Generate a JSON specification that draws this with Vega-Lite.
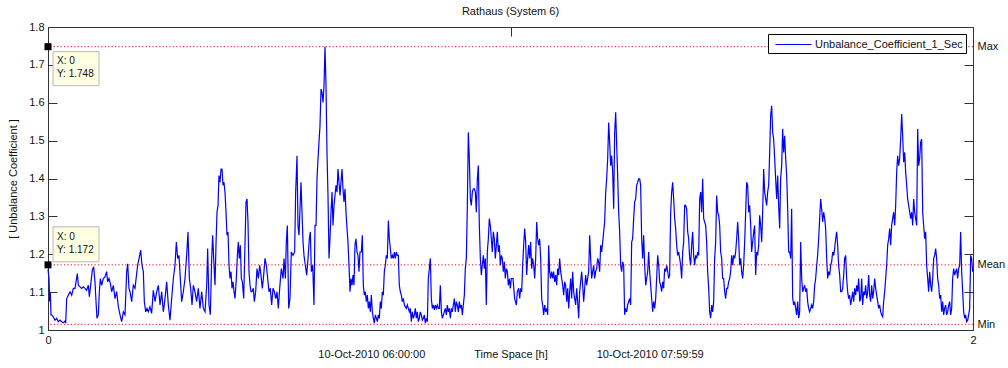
{
"$schema": "https://vega.github.io/schema/vega-lite/v6.json",
"width": 925, "height": 303,
"autosize": {"type": "none"},
"padding": {"left": 48, "top": 27, "right": 35, "bottom": 38},
"background": "white",
"title": {"text": "Rathaus (System 6)", "fontSize": 11, "fontWeight": "normal", "font": "Liberation Sans", "color": "#111", "baseline": "alphabetic", "offset": 11, "dy": 16},
"datasets": {
"stats": [
{"stat": "Max", "h": 0, "v": 1.748, "tip": "X: 0\nY: 1.748"},
{"stat": "Mean", "h": 0, "v": 1.172, "tip": "X: 0\nY: 1.172"},
{"stat": "Min", "h": 0, "v": 1.015, "tip": ""}
],
"series": [
{"h":0,"v":1.160},{"h":0.0022,"v":1.136},{"h":0.0036,"v":1.075},{"h":0.0050,"v":1.100},{"h":0.0065,"v":1.040},{"h":0.0079,"v":1.040},{"h":0.0115,"v":1.035},{"h":0.0151,"v":1.026},{"h":0.0187,"v":1.031},{"h":0.0223,"v":1.022},{"h":0.0259,"v":1.026},{"h":0.0295,"v":1.022},{"h":0.0332,"v":1.019},{"h":0.0368,"v":1.024},{"h":0.0382,"v":1.018},{"h":0.0404,"v":1.083},{"h":0.0440,"v":1.092},{"h":0.0476,"v":1.101},{"h":0.0512,"v":1.092},{"h":0.0548,"v":1.110},{"h":0.0584,"v":1.110},{"h":0.0634,"v":1.149},{"h":0.0656,"v":1.118},{"h":0.0692,"v":1.114},{"h":0.0728,"v":1.110},{"h":0.0764,"v":1.114},{"h":0.0800,"v":1.110},{"h":0.0836,"v":1.105},{"h":0.0872,"v":1.118},{"h":0.0894,"v":1.088},{"h":0.0930,"v":1.127},{"h":0.0959,"v":1.158},{"h":0.0987,"v":1.167},{"h":0.1016,"v":1.127},{"h":0.1038,"v":1.075},{"h":0.1059,"v":1.031},{"h":0.1088,"v":1.040},{"h":0.1110,"v":1.101},{"h":0.1132,"v":1.136},{"h":0.1160,"v":1.118},{"h":0.1196,"v":1.136},{"h":0.1232,"v":1.140},{"h":0.1268,"v":1.154},{"h":0.1290,"v":1.127},{"h":0.1319,"v":1.136},{"h":0.1348,"v":1.123},{"h":0.1377,"v":1.101},{"h":0.1413,"v":1.118},{"h":0.1449,"v":1.083},{"h":0.1485,"v":1.101},{"h":0.1521,"v":1.061},{"h":0.1557,"v":1.040},{"h":0.1593,"v":1.022},{"h":0.1629,"v":1.048},{"h":0.1665,"v":1.040},{"h":0.1701,"v":1.154},{"h":0.1723,"v":1.175},{"h":0.1751,"v":1.110},{"h":0.1773,"v":1.101},{"h":0.1809,"v":1.075},{"h":0.1845,"v":1.118},{"h":0.1881,"v":1.110},{"h":0.1917,"v":1.149},{"h":0.1939,"v":1.171},{"h":0.1975,"v":1.193},{"h":0.2004,"v":1.211},{"h":0.2032,"v":1.171},{"h":0.2061,"v":1.154},{"h":0.2083,"v":1.075},{"h":0.2112,"v":1.048},{"h":0.2141,"v":1.057},{"h":0.2169,"v":1.048},{"h":0.2205,"v":1.061},{"h":0.2241,"v":1.044},{"h":0.2277,"v":1.105},{"h":0.2314,"v":1.075},{"h":0.2350,"v":1.101},{"h":0.2386,"v":1.118},{"h":0.2422,"v":1.066},{"h":0.2458,"v":1.101},{"h":0.2494,"v":1.048},{"h":0.2530,"v":1.083},{"h":0.2566,"v":1.127},{"h":0.2602,"v":1.066},{"h":0.2638,"v":1.026},{"h":0.2674,"v":1.083},{"h":0.2710,"v":1.136},{"h":0.2746,"v":1.171},{"h":0.2775,"v":1.232},{"h":0.2804,"v":1.189},{"h":0.2832,"v":1.197},{"h":0.2861,"v":1.136},{"h":0.2890,"v":1.075},{"h":0.2926,"v":1.101},{"h":0.2962,"v":1.136},{"h":0.2998,"v":1.197},{"h":0.3027,"v":1.259},{"h":0.3056,"v":1.136},{"h":0.3085,"v":1.110},{"h":0.3114,"v":1.066},{"h":0.3142,"v":1.118},{"h":0.3178,"v":1.101},{"h":0.3214,"v":1.075},{"h":0.3250,"v":1.110},{"h":0.3286,"v":1.057},{"h":0.3323,"v":1.101},{"h":0.3359,"v":1.057},{"h":0.3395,"v":1.048},{"h":0.3431,"v":1.118},{"h":0.3452,"v":1.215},{"h":0.3481,"v":1.066},{"h":0.3510,"v":1.040},{"h":0.3539,"v":1.189},{"h":0.3560,"v":1.250},{"h":0.3589,"v":1.171},{"h":0.3611,"v":1.118},{"h":0.3632,"v":1.224},{"h":0.3654,"v":1.311},{"h":0.3676,"v":1.329},{"h":0.3697,"v":1.408},{"h":0.3719,"v":1.390},{"h":0.3741,"v":1.425},{"h":0.3762,"v":1.425},{"h":0.3784,"v":1.382},{"h":0.3805,"v":1.390},{"h":0.3827,"v":1.364},{"h":0.3849,"v":1.311},{"h":0.3870,"v":1.250},{"h":0.3892,"v":1.259},{"h":0.3914,"v":1.171},{"h":0.3935,"v":1.136},{"h":0.3957,"v":1.154},{"h":0.3978,"v":1.110},{"h":0.4000,"v":1.127},{"h":0.4022,"v":1.101},{"h":0.4043,"v":1.083},{"h":0.4072,"v":1.136},{"h":0.4094,"v":1.197},{"h":0.4115,"v":1.232},{"h":0.4137,"v":1.189},{"h":0.4159,"v":1.224},{"h":0.4180,"v":1.136},{"h":0.4202,"v":1.127},{"h":0.4231,"v":1.083},{"h":0.4259,"v":1.224},{"h":0.4281,"v":1.338},{"h":0.4303,"v":1.346},{"h":0.4324,"v":1.285},{"h":0.4346,"v":1.154},{"h":0.4368,"v":1.118},{"h":0.4389,"v":1.101},{"h":0.4411,"v":1.101},{"h":0.4440,"v":1.110},{"h":0.4461,"v":1.075},{"h":0.4490,"v":1.101},{"h":0.4519,"v":1.162},{"h":0.4548,"v":1.136},{"h":0.4577,"v":1.171},{"h":0.4605,"v":1.145},{"h":0.4634,"v":1.110},{"h":0.4663,"v":1.145},{"h":0.4692,"v":1.189},{"h":0.4721,"v":1.171},{"h":0.4750,"v":1.136},{"h":0.4778,"v":1.101},{"h":0.4807,"v":1.110},{"h":0.4836,"v":1.066},{"h":0.4865,"v":1.110},{"h":0.4894,"v":1.101},{"h":0.4923,"v":1.083},{"h":0.4951,"v":1.101},{"h":0.4980,"v":1.057},
{"h":0.5009,"v":1.110},{"h":0.5045,"v":1.162},{"h":0.5081,"v":1.136},{"h":0.5103,"v":1.189},{"h":0.5132,"v":1.136},{"h":0.5153,"v":1.232},{"h":0.5175,"v":1.276},{"h":0.5204,"v":1.057},{"h":0.5232,"v":1.083},{"h":0.5261,"v":1.206},{"h":0.5297,"v":1.197},{"h":0.5333,"v":1.206},{"h":0.5355,"v":1.364},{"h":0.5384,"v":1.460},{"h":0.5405,"v":1.276},{"h":0.5427,"v":1.250},{"h":0.5449,"v":1.320},{"h":0.5470,"v":1.390},{"h":0.5492,"v":1.311},{"h":0.5514,"v":1.232},{"h":0.5535,"v":1.197},{"h":0.5564,"v":1.171},{"h":0.5593,"v":1.145},{"h":0.5622,"v":1.189},{"h":0.5650,"v":1.241},{"h":0.5672,"v":1.259},{"h":0.5694,"v":1.154},{"h":0.5723,"v":1.171},{"h":0.5751,"v":1.066},{"h":0.5773,"v":1.276},{"h":0.5795,"v":1.276},{"h":0.5816,"v":1.399},{"h":0.5838,"v":1.452},{"h":0.5859,"v":1.496},{"h":0.5881,"v":1.539},{"h":0.5903,"v":1.636},{"h":0.5924,"v":1.627},{"h":0.5946,"v":1.601},{"h":0.5968,"v":1.645},{"h":0.5989,"v":1.748},{"h":0.6011,"v":1.645},{"h":0.6032,"v":1.469},{"h":0.6054,"v":1.355},{"h":0.6076,"v":1.189},{"h":0.6097,"v":1.241},{"h":0.6119,"v":1.311},{"h":0.6141,"v":1.364},{"h":0.6162,"v":1.276},{"h":0.6184,"v":1.329},{"h":0.6205,"v":1.355},{"h":0.6227,"v":1.382},{"h":0.6249,"v":1.364},{"h":0.6270,"v":1.425},{"h":0.6292,"v":1.390},{"h":0.6314,"v":1.355},{"h":0.6335,"v":1.390},{"h":0.6357,"v":1.425},{"h":0.6378,"v":1.373},{"h":0.6400,"v":1.338},{"h":0.6422,"v":1.373},{"h":0.6443,"v":1.311},{"h":0.6465,"v":1.268},{"h":0.6486,"v":1.232},{"h":0.6508,"v":1.171},{"h":0.6530,"v":1.101},{"h":0.6551,"v":1.136},{"h":0.6573,"v":1.118},{"h":0.6595,"v":1.145},{"h":0.6616,"v":1.118},{"h":0.6638,"v":1.224},{"h":0.6659,"v":1.241},{"h":0.6681,"v":1.206},{"h":0.6703,"v":1.197},{"h":0.6724,"v":1.154},{"h":0.6746,"v":1.206},{"h":0.6775,"v":1.206},{"h":0.6796,"v":1.250},{"h":0.6818,"v":1.118},{"h":0.6840,"v":1.092},{"h":0.6861,"v":1.101},{"h":0.6883,"v":1.075},{"h":0.6905,"v":1.092},{"h":0.6926,"v":1.057},{"h":0.6948,"v":1.075},{"h":0.6969,"v":1.048},{"h":0.6991,"v":1.092},{"h":0.7013,"v":1.048},{"h":0.7034,"v":1.031},{"h":0.7056,"v":1.018},{"h":0.7077,"v":1.040},{"h":0.7099,"v":1.031},{"h":0.7121,"v":1.022},{"h":0.7142,"v":1.040},{"h":0.7164,"v":1.031},{"h":0.7186,"v":1.075},{"h":0.7207,"v":1.057},{"h":0.7229,"v":1.101},{"h":0.7250,"v":1.092},{"h":0.7272,"v":1.154},{"h":0.7294,"v":1.171},{"h":0.7315,"v":1.197},{"h":0.7337,"v":1.189},{"h":0.7359,"v":1.289},{"h":0.7380,"v":1.241},{"h":0.7402,"v":1.215},{"h":0.7423,"v":1.189},{"h":0.7445,"v":1.197},{"h":0.7467,"v":1.189},{"h":0.7488,"v":1.206},{"h":0.7510,"v":1.189},{"h":0.7532,"v":1.206},{"h":0.7553,"v":1.197},{"h":0.7575,"v":1.197},{"h":0.7596,"v":1.118},{"h":0.7618,"v":1.101},{"h":0.7640,"v":1.092},{"h":0.7661,"v":1.075},{"h":0.7683,"v":1.083},{"h":0.7705,"v":1.066},{"h":0.7726,"v":1.061},{"h":0.7748,"v":1.057},{"h":0.7769,"v":1.066},{"h":0.7791,"v":1.057},{"h":0.7813,"v":1.048},{"h":0.7834,"v":1.057},{"h":0.7856,"v":1.022},{"h":0.7877,"v":1.048},{"h":0.7899,"v":1.031},{"h":0.7921,"v":1.040},{"h":0.7942,"v":1.057},{"h":0.7964,"v":1.031},{"h":0.7986,"v":1.048},{"h":0.8007,"v":1.022},{"h":0.8029,"v":1.031},{"h":0.8050,"v":1.048},{"h":0.8072,"v":1.040},{"h":0.8094,"v":1.026},{"h":0.8115,"v":1.031},{"h":0.8137,"v":1.040},{"h":0.8159,"v":1.018},{"h":0.8180,"v":1.031},{"h":0.8202,"v":1.022},{"h":0.8223,"v":1.136},{"h":0.8245,"v":1.162},{"h":0.8267,"v":1.189},{"h":0.8288,"v":1.083},{"h":0.8310,"v":1.057},{"h":0.8332,"v":1.066},{"h":0.8353,"v":1.053},{"h":0.8375,"v":1.066},{"h":0.8396,"v":1.057},{"h":0.8418,"v":1.066},{"h":0.8440,"v":1.057},{"h":0.8461,"v":1.057},{"h":0.8483,"v":1.118},{"h":0.8505,"v":1.048},{"h":0.8526,"v":1.031},{"h":0.8548,"v":1.040},{"h":0.8569,"v":1.048},{"h":0.8591,"v":1.057},{"h":0.8613,"v":1.040},{"h":0.8634,"v":1.066},{"h":0.8656,"v":1.048},{"h":0.8677,"v":1.057},{"h":0.8699,"v":1.031},{"h":0.8721,"v":1.057},{"h":0.8742,"v":1.048},{"h":0.8764,"v":1.066},{"h":0.8786,"v":1.083},{"h":0.8807,"v":1.048},{"h":0.8829,"v":1.075},{"h":0.8850,"v":1.066},{"h":0.8872,"v":1.048},{"h":0.8894,"v":1.075},{"h":0.8915,"v":1.057},{"h":0.8937,"v":1.066},{"h":0.8959,"v":1.040},{"h":0.8980,"v":1.066},{"h":0.9002,"v":1.092},{"h":0.9023,"v":1.162},{"h":0.9045,"v":1.189},{"h":0.9067,"v":1.329},{"h":0.9088,"v":1.522},{"h":0.9110,"v":1.452},{"h":0.9132,"v":1.346},{"h":0.9153,"v":1.329},{"h":0.9175,"v":1.364},{"h":0.9196,"v":1.373},{"h":0.9218,"v":1.373},{"h":0.9240,"v":1.364},{"h":0.9261,"v":1.311},{"h":0.9283,"v":1.399},{"h":0.9305,"v":1.434},{"h":0.9326,"v":1.276},{"h":0.9348,"v":1.189},{"h":0.9369,"v":1.145},{"h":0.9391,"v":1.171},{"h":0.9413,"v":1.197},{"h":0.9434,"v":1.162},{"h":0.9456,"v":1.189},{"h":0.9477,"v":1.066},{"h":0.9499,"v":1.206},{"h":0.9521,"v":1.241},{"h":0.9542,"v":1.294},{"h":0.9564,"v":1.276},{"h":0.9586,"v":1.241},{"h":0.9607,"v":1.206},{"h":0.9629,"v":1.259},{"h":0.9650,"v":1.241},{"h":0.9672,"v":1.189},{"h":0.9694,"v":1.224},{"h":0.9715,"v":1.259},{"h":0.9737,"v":1.206},{"h":0.9759,"v":1.224},{"h":0.9780,"v":1.171},{"h":0.9802,"v":1.197},{"h":0.9823,"v":1.189},{"h":0.9845,"v":1.154},{"h":0.9867,"v":1.180},{"h":0.9888,"v":1.136},{"h":0.9910,"v":1.162},{"h":0.9932,"v":1.154},{"h":0.9953,"v":1.118},{"h":0.9975,"v":1.136},{"h":0.9996,"v":1.110},{"h":1.0018,"v":1.136},
{"h":1.0054,"v":1.136},{"h":1.0090,"v":1.083},{"h":1.0126,"v":1.066},{"h":1.0148,"v":1.101},{"h":1.0177,"v":1.110},{"h":1.0198,"v":1.083},{"h":1.0220,"v":1.110},{"h":1.0242,"v":1.101},{"h":1.0263,"v":1.171},{"h":1.0285,"v":1.224},{"h":1.0306,"v":1.268},{"h":1.0328,"v":1.232},{"h":1.0350,"v":1.145},{"h":1.0371,"v":1.189},{"h":1.0393,"v":1.224},{"h":1.0414,"v":1.189},{"h":1.0436,"v":1.232},{"h":1.0458,"v":1.162},{"h":1.0479,"v":1.189},{"h":1.0501,"v":1.171},{"h":1.0523,"v":1.136},{"h":1.0544,"v":1.189},{"h":1.0566,"v":1.285},{"h":1.0587,"v":1.241},{"h":1.0609,"v":1.224},{"h":1.0631,"v":1.241},{"h":1.0652,"v":1.189},{"h":1.0674,"v":1.083},{"h":1.0695,"v":1.066},{"h":1.0717,"v":1.040},{"h":1.0739,"v":1.066},{"h":1.0760,"v":1.048},{"h":1.0782,"v":1.057},{"h":1.0804,"v":1.040},{"h":1.0825,"v":1.224},{"h":1.0847,"v":1.154},{"h":1.0868,"v":1.136},{"h":1.0890,"v":1.154},{"h":1.0912,"v":1.136},{"h":1.0933,"v":1.154},{"h":1.0955,"v":1.127},{"h":1.0977,"v":1.145},{"h":1.0998,"v":1.118},{"h":1.1020,"v":1.162},{"h":1.1041,"v":1.145},{"h":1.1063,"v":1.189},{"h":1.1085,"v":1.154},{"h":1.1106,"v":1.136},{"h":1.1128,"v":1.118},{"h":1.1150,"v":1.092},{"h":1.1171,"v":1.127},{"h":1.1193,"v":1.118},{"h":1.1214,"v":1.075},{"h":1.1236,"v":1.110},{"h":1.1258,"v":1.057},{"h":1.1279,"v":1.101},{"h":1.1301,"v":1.136},{"h":1.1323,"v":1.083},{"h":1.1344,"v":1.154},{"h":1.1366,"v":1.101},{"h":1.1387,"v":1.083},{"h":1.1409,"v":1.066},{"h":1.1431,"v":1.110},{"h":1.1452,"v":1.075},{"h":1.1474,"v":1.031},{"h":1.1496,"v":1.101},{"h":1.1517,"v":1.127},{"h":1.1539,"v":1.154},{"h":1.1560,"v":1.118},{"h":1.1582,"v":1.075},{"h":1.1604,"v":1.110},{"h":1.1625,"v":1.145},{"h":1.1647,"v":1.118},{"h":1.1668,"v":1.136},{"h":1.1690,"v":1.154},{"h":1.1712,"v":1.250},{"h":1.1733,"v":1.189},{"h":1.1755,"v":1.136},{"h":1.1777,"v":1.154},{"h":1.1798,"v":1.171},{"h":1.1820,"v":1.136},{"h":1.1841,"v":1.154},{"h":1.1863,"v":1.162},{"h":1.1885,"v":1.189},{"h":1.1906,"v":1.180},{"h":1.1928,"v":1.154},{"h":1.1950,"v":1.224},{"h":1.1971,"v":1.206},{"h":1.1993,"v":1.232},{"h":1.2014,"v":1.259},{"h":1.2036,"v":1.285},{"h":1.2058,"v":1.364},{"h":1.2079,"v":1.399},{"h":1.2101,"v":1.452},{"h":1.2123,"v":1.548},{"h":1.2144,"v":1.496},{"h":1.2166,"v":1.434},{"h":1.2187,"v":1.460},{"h":1.2209,"v":1.417},{"h":1.2231,"v":1.320},{"h":1.2252,"v":1.522},{"h":1.2274,"v":1.575},{"h":1.2296,"v":1.487},{"h":1.2317,"v":1.408},{"h":1.2339,"v":1.311},{"h":1.2360,"v":1.259},{"h":1.2382,"v":1.171},{"h":1.2404,"v":1.154},{"h":1.2425,"v":1.180},{"h":1.2447,"v":1.171},{"h":1.2468,"v":1.040},{"h":1.2490,"v":1.057},{"h":1.2512,"v":1.048},{"h":1.2533,"v":1.066},{"h":1.2555,"v":1.075},{"h":1.2577,"v":1.083},{"h":1.2598,"v":1.066},{"h":1.2620,"v":1.232},{"h":1.2641,"v":1.241},{"h":1.2663,"v":1.294},{"h":1.2685,"v":1.338},{"h":1.2706,"v":1.346},{"h":1.2728,"v":1.382},{"h":1.2750,"v":1.390},{"h":1.2771,"v":1.399},{"h":1.2793,"v":1.399},{"h":1.2814,"v":1.382},{"h":1.2836,"v":1.241},{"h":1.2858,"v":1.189},{"h":1.2879,"v":1.250},{"h":1.2901,"v":1.171},{"h":1.2923,"v":1.118},{"h":1.2944,"v":1.136},{"h":1.2966,"v":1.154},{"h":1.2987,"v":1.206},{"h":1.3009,"v":1.154},{"h":1.3031,"v":1.118},{"h":1.3052,"v":1.083},{"h":1.3074,"v":1.048},{"h":1.3095,"v":1.075},{"h":1.3117,"v":1.057},{"h":1.3139,"v":1.083},{"h":1.3160,"v":1.136},{"h":1.3182,"v":1.197},{"h":1.3204,"v":1.171},{"h":1.3225,"v":1.127},{"h":1.3247,"v":1.118},{"h":1.3268,"v":1.101},{"h":1.3290,"v":1.127},{"h":1.3312,"v":1.110},{"h":1.3333,"v":1.162},{"h":1.3355,"v":1.154},{"h":1.3377,"v":1.171},{"h":1.3398,"v":1.154},{"h":1.3420,"v":1.136},{"h":1.3441,"v":1.145},{"h":1.3463,"v":1.311},{"h":1.3485,"v":1.364},{"h":1.3506,"v":1.390},{"h":1.3528,"v":1.346},{"h":1.3550,"v":1.294},{"h":1.3571,"v":1.268},{"h":1.3593,"v":1.224},{"h":1.3614,"v":1.197},{"h":1.3636,"v":1.206},{"h":1.3658,"v":1.189},{"h":1.3679,"v":1.171},{"h":1.3701,"v":1.136},{"h":1.3723,"v":1.206},{"h":1.3744,"v":1.232},{"h":1.3766,"v":1.329},{"h":1.3787,"v":1.329},{"h":1.3809,"v":1.320},{"h":1.3831,"v":1.259},{"h":1.3852,"v":1.241},{"h":1.3874,"v":1.189},{"h":1.3896,"v":1.171},{"h":1.3917,"v":1.224},{"h":1.3939,"v":1.259},{"h":1.3960,"v":1.197},{"h":1.3982,"v":1.171},{"h":1.4004,"v":1.197},{"h":1.4025,"v":1.189},{"h":1.4047,"v":1.206},{"h":1.4069,"v":1.197},{"h":1.4090,"v":1.346},{"h":1.4112,"v":1.364},{"h":1.4133,"v":1.311},{"h":1.4155,"v":1.399},{"h":1.4177,"v":1.294},{"h":1.4198,"v":1.285},{"h":1.4220,"v":1.276},{"h":1.4241,"v":1.232},{"h":1.4263,"v":1.154},{"h":1.4285,"v":1.110},{"h":1.4306,"v":1.048},{"h":1.4328,"v":1.031},{"h":1.4350,"v":1.066},{"h":1.4371,"v":1.048},{"h":1.4393,"v":1.075},{"h":1.4414,"v":1.189},{"h":1.4436,"v":1.232},{"h":1.4458,"v":1.355},{"h":1.4479,"v":1.311},{"h":1.4501,"v":1.303},{"h":1.4523,"v":1.276},{"h":1.4544,"v":1.206},{"h":1.4566,"v":1.189},{"h":1.4587,"v":1.136},{"h":1.4609,"v":1.136},{"h":1.4631,"v":1.101},{"h":1.4652,"v":1.083},{"h":1.4674,"v":1.110},{"h":1.4695,"v":1.110},{"h":1.4717,"v":1.127},{"h":1.4739,"v":1.136},{"h":1.4760,"v":1.154},{"h":1.4782,"v":1.197},{"h":1.4804,"v":1.171},{"h":1.4825,"v":1.197},{"h":1.4847,"v":1.189},{"h":1.4868,"v":1.206},{"h":1.4890,"v":1.241},{"h":1.4912,"v":1.285},{"h":1.4933,"v":1.241},{"h":1.4955,"v":1.171},{"h":1.4977,"v":1.189},{"h":1.4998,"v":1.154},
{"h":1.5020,"v":1.136},{"h":1.5041,"v":1.171},{"h":1.5063,"v":1.232},{"h":1.5085,"v":1.311},{"h":1.5106,"v":1.390},{"h":1.5128,"v":1.382},{"h":1.5150,"v":1.311},{"h":1.5171,"v":1.329},{"h":1.5193,"v":1.276},{"h":1.5214,"v":1.206},{"h":1.5236,"v":1.232},{"h":1.5258,"v":1.259},{"h":1.5279,"v":1.276},{"h":1.5301,"v":1.145},{"h":1.5323,"v":1.206},{"h":1.5344,"v":1.197},{"h":1.5366,"v":1.224},{"h":1.5387,"v":1.303},{"h":1.5409,"v":1.276},{"h":1.5431,"v":1.232},{"h":1.5452,"v":1.311},{"h":1.5474,"v":1.425},{"h":1.5495,"v":1.364},{"h":1.5517,"v":1.346},{"h":1.5539,"v":1.329},{"h":1.5560,"v":1.364},{"h":1.5582,"v":1.382},{"h":1.5604,"v":1.469},{"h":1.5625,"v":1.566},{"h":1.5647,"v":1.592},{"h":1.5668,"v":1.522},{"h":1.5690,"v":1.504},{"h":1.5712,"v":1.452},{"h":1.5733,"v":1.399},{"h":1.5755,"v":1.346},{"h":1.5777,"v":1.408},{"h":1.5798,"v":1.329},{"h":1.5820,"v":1.268},{"h":1.5841,"v":1.399},{"h":1.5863,"v":1.434},{"h":1.5885,"v":1.531},{"h":1.5906,"v":1.469},{"h":1.5928,"v":1.513},{"h":1.5950,"v":1.452},{"h":1.5971,"v":1.408},{"h":1.5993,"v":1.320},{"h":1.6014,"v":1.206},{"h":1.6036,"v":1.206},{"h":1.6058,"v":1.189},{"h":1.6079,"v":1.320},{"h":1.6101,"v":1.083},{"h":1.6123,"v":1.066},{"h":1.6144,"v":1.075},{"h":1.6166,"v":1.057},{"h":1.6187,"v":1.040},{"h":1.6209,"v":1.075},{"h":1.6231,"v":1.031},{"h":1.6252,"v":1.048},{"h":1.6274,"v":1.232},{"h":1.6296,"v":1.136},{"h":1.6317,"v":1.101},{"h":1.6339,"v":1.110},{"h":1.6360,"v":1.118},{"h":1.6382,"v":1.101},{"h":1.6404,"v":1.110},{"h":1.6425,"v":1.075},{"h":1.6447,"v":1.057},{"h":1.6468,"v":1.048},{"h":1.6490,"v":1.057},{"h":1.6512,"v":1.066},{"h":1.6533,"v":1.057},{"h":1.6555,"v":1.075},{"h":1.6577,"v":1.118},{"h":1.6598,"v":1.136},{"h":1.6620,"v":1.171},{"h":1.6641,"v":1.197},{"h":1.6663,"v":1.241},{"h":1.6685,"v":1.294},{"h":1.6706,"v":1.346},{"h":1.6728,"v":1.320},{"h":1.6750,"v":1.285},{"h":1.6771,"v":1.311},{"h":1.6793,"v":1.294},{"h":1.6814,"v":1.268},{"h":1.6836,"v":1.189},{"h":1.6858,"v":1.136},{"h":1.6879,"v":1.154},{"h":1.6901,"v":1.145},{"h":1.6923,"v":1.171},{"h":1.6944,"v":1.180},{"h":1.6966,"v":1.206},{"h":1.6987,"v":1.197},{"h":1.7009,"v":1.215},{"h":1.7031,"v":1.241},{"h":1.7052,"v":1.259},{"h":1.7074,"v":1.224},{"h":1.7095,"v":1.171},{"h":1.7117,"v":1.145},{"h":1.7139,"v":1.101},{"h":1.7160,"v":1.101},{"h":1.7182,"v":1.110},{"h":1.7204,"v":1.145},{"h":1.7225,"v":1.189},{"h":1.7247,"v":1.197},{"h":1.7268,"v":1.136},{"h":1.7290,"v":1.101},{"h":1.7312,"v":1.083},{"h":1.7333,"v":1.092},{"h":1.7355,"v":1.066},{"h":1.7377,"v":1.083},{"h":1.7398,"v":1.101},{"h":1.7420,"v":1.075},{"h":1.7441,"v":1.110},{"h":1.7463,"v":1.092},{"h":1.7485,"v":1.118},{"h":1.7506,"v":1.101},{"h":1.7528,"v":1.136},{"h":1.7550,"v":1.075},{"h":1.7571,"v":1.083},{"h":1.7593,"v":1.136},{"h":1.7614,"v":1.066},{"h":1.7636,"v":1.101},{"h":1.7658,"v":1.092},{"h":1.7679,"v":1.118},{"h":1.7701,"v":1.083},{"h":1.7723,"v":1.101},{"h":1.7744,"v":1.145},{"h":1.7766,"v":1.092},{"h":1.7787,"v":1.075},{"h":1.7809,"v":1.118},{"h":1.7831,"v":1.083},{"h":1.7852,"v":1.101},{"h":1.7874,"v":1.136},{"h":1.7896,"v":1.110},{"h":1.7917,"v":1.092},{"h":1.7939,"v":1.075},{"h":1.7960,"v":1.057},{"h":1.7982,"v":1.066},{"h":1.8004,"v":1.048},{"h":1.8025,"v":1.040},{"h":1.8047,"v":1.035},{"h":1.8068,"v":1.075},{"h":1.8090,"v":1.101},{"h":1.8112,"v":1.136},{"h":1.8133,"v":1.171},{"h":1.8155,"v":1.224},{"h":1.8177,"v":1.241},{"h":1.8198,"v":1.268},{"h":1.8220,"v":1.224},{"h":1.8241,"v":1.276},{"h":1.8263,"v":1.294},{"h":1.8285,"v":1.311},{"h":1.8306,"v":1.276},{"h":1.8328,"v":1.329},{"h":1.8350,"v":1.417},{"h":1.8371,"v":1.460},{"h":1.8393,"v":1.434},{"h":1.8414,"v":1.452},{"h":1.8436,"v":1.504},{"h":1.8458,"v":1.570},{"h":1.8479,"v":1.513},{"h":1.8501,"v":1.443},{"h":1.8523,"v":1.469},{"h":1.8544,"v":1.417},{"h":1.8566,"v":1.382},{"h":1.8587,"v":1.346},{"h":1.8609,"v":1.329},{"h":1.8631,"v":1.311},{"h":1.8652,"v":1.294},{"h":1.8674,"v":1.311},{"h":1.8696,"v":1.276},{"h":1.8717,"v":1.346},{"h":1.8739,"v":1.311},{"h":1.8760,"v":1.294},{"h":1.8782,"v":1.276},{"h":1.8804,"v":1.531},{"h":1.8825,"v":1.434},{"h":1.8847,"v":1.452},{"h":1.8868,"v":1.496},{"h":1.8890,"v":1.504},{"h":1.8912,"v":1.311},{"h":1.8933,"v":1.276},{"h":1.8955,"v":1.241},{"h":1.8977,"v":1.259},{"h":1.8998,"v":1.171},{"h":1.9020,"v":1.136},{"h":1.9041,"v":1.101},{"h":1.9063,"v":1.154},{"h":1.9085,"v":1.118},{"h":1.9106,"v":1.101},{"h":1.9128,"v":1.136},{"h":1.9150,"v":1.189},{"h":1.9171,"v":1.197},{"h":1.9193,"v":1.215},{"h":1.9214,"v":1.189},{"h":1.9236,"v":1.136},{"h":1.9258,"v":1.118},{"h":1.9279,"v":1.083},{"h":1.9301,"v":1.092},{"h":1.9323,"v":1.048},{"h":1.9344,"v":1.075},{"h":1.9366,"v":1.040},{"h":1.9387,"v":1.057},{"h":1.9409,"v":1.066},{"h":1.9431,"v":1.040},{"h":1.9452,"v":1.048},{"h":1.9474,"v":1.066},{"h":1.9495,"v":1.075},{"h":1.9517,"v":1.040},{"h":1.9539,"v":1.057},{"h":1.9560,"v":1.136},{"h":1.9582,"v":1.162},{"h":1.9604,"v":1.145},{"h":1.9625,"v":1.154},{"h":1.9647,"v":1.162},{"h":1.9668,"v":1.136},{"h":1.9690,"v":1.162},{"h":1.9712,"v":1.171},{"h":1.9733,"v":1.259},{"h":1.9755,"v":1.154},{"h":1.9777,"v":1.101},{"h":1.9798,"v":1.048},{"h":1.9820,"v":1.031},{"h":1.9841,"v":1.040},{"h":1.9863,"v":1.022},{"h":1.9885,"v":1.026},{"h":1.9906,"v":1.040},{"h":1.9928,"v":1.057},{"h":1.9950,"v":1.197},{"h":1.9971,"v":1.189},{"h":1.9993,"v":1.154},{"h":2.0,"v":1.162}
]
},
"layer": [
{
"data": {"name": "series"},
"mark": {"type": "line", "strokeWidth": 1.2, "clip": false},
"encoding": {
"x": {"field": "h", "type": "quantitative", "scale": {"domain": [0, 2], "nice": false, "zero": false},
"axis": {"orient": "bottom", "values": [0, 1, 2], "format": "d", "labelFlush": false, "tickSize": -9, "labelPadding": 13, "domain": false, "grid": false,
"title": "10-Oct-2010 06:00:00\u00a0\u00a0\u00a0\u00a0\u00a0\u00a0\u00a0\u00a0\u00a0\u00a0\u00a0\u00a0\u00a0\u00a0\u00a0\u00a0Time Space [h]\u00a0\u00a0\u00a0\u00a0\u00a0\u00a0\u00a0\u00a0\u00a0\u00a0\u00a0\u00a0\u00a0\u00a0\u00a0\u00a010-Oct-2010 07:59:59",
"titlePadding": 3}},
"y": {"field": "v", "type": "quantitative", "scale": {"domain": [1, 1.8], "nice": false, "zero": false},
"axis": {"orient": "left", "values": [1, 1.1, 1.2, 1.3, 1.4, 1.5, 1.6, 1.7, 1.8], "format": "~g", "tickSize": -9, "labelPadding": 13, "domain": false, "grid": false, "labelOverlap": false, "title": "[ Unbalance Coefficient ]", "titlePadding": 10}},
"color": {"datum": "Unbalance_Coefficient_1_Sec", "type": "nominal", "scale": {"range": ["#0000ff"]},
"legend": {"title": null, "orient": "top-right", "offset": 7, "symbolType": "M-0.43,0H4.71", "symbolSize": 196, "symbolStrokeWidth": 1, "labelOffset": 29, "labelFontSize": 11, "labelLimit": 300, "padding": 3, "strokeColor": "#000", "fillColor": "#fff", "cornerRadius": 0}}
}
},
{
"data": {"name": "stats"},
"mark": {"type": "rule", "color": "#e01010", "strokeWidth": 1, "strokeDash": [1.2, 2.2]},
"encoding": {
"y": {"field": "v", "type": "quantitative",
"axis": {"orient": "right", "values": [1.015, 1.1, 1.172, 1.2, 1.3, 1.4, 1.5, 1.6, 1.7, 1.748], "labelExpr": "datum.value == 1.748 ? 'Max' : datum.value == 1.172 ? 'Mean' : datum.value == 1.015 ? 'Min' : ''", "tickSize": -9, "labelPadding": 13, "domain": false, "grid": false, "labelOverlap": false, "title": null,
"tickOpacity": {"condition": {"test": "datum.value == 1.748 || datum.value == 1.172 || datum.value == 1.015", "value": 0}, "value": 1}}}
}
},
{
"data": {"name": "stats"},
"transform": [{"filter": "datum.stat === 'Max'"}],
"mark": {"type": "rect", "fill": "#ffffe1", "stroke": "#b8b8b8", "strokeWidth": 1, "xOffset": 5, "x2Offset": 51, "yOffset": 5, "y2Offset": 39},
"encoding": {
"x": {"field": "h", "type": "quantitative", "axis": null},
"x2": {"field": "h"},
"y": {"field": "v", "type": "quantitative", "axis": null},
"y2": {"field": "v"}
}
},
{
"data": {"name": "stats"},
"transform": [{"filter": "datum.stat === 'Mean'"}],
"mark": {"type": "rect", "fill": "#ffffe1", "stroke": "#b8b8b8", "strokeWidth": 1, "xOffset": 5, "x2Offset": 51, "yOffset": -38, "y2Offset": -3},
"encoding": {
"x": {"field": "h", "type": "quantitative", "axis": null},
"x2": {"field": "h"},
"y": {"field": "v", "type": "quantitative", "axis": null},
"y2": {"field": "v"}
}
},
{
"data": {"name": "stats"},
"transform": [{"filter": "datum.stat === 'Max'"}],
"mark": {"type": "text", "align": "left", "baseline": "top", "dx": 9, "dy": 9, "fontSize": 10, "lineHeight": 13, "lineBreak": "\n", "color": "#111"},
"encoding": {
"x": {"field": "h", "type": "quantitative", "axis": null},
"y": {"field": "v", "type": "quantitative", "axis": null},
"text": {"field": "tip"}
}
},
{
"data": {"name": "stats"},
"transform": [{"filter": "datum.stat === 'Mean'"}],
"mark": {"type": "text", "align": "left", "baseline": "top", "dx": 9, "dy": -33, "fontSize": 10, "lineHeight": 13, "lineBreak": "\n", "color": "#111"},
"encoding": {
"x": {"field": "h", "type": "quantitative", "axis": null},
"y": {"field": "v", "type": "quantitative", "axis": null},
"text": {"field": "tip"}
}
},
{
"data": {"name": "stats"},
"transform": [{"filter": "datum.stat !== 'Min'"}],
"mark": {"type": "point", "shape": "square", "filled": true, "size": 49, "color": "#000", "opacity": 1, "clip": false},
"encoding": {
"x": {"field": "h", "type": "quantitative",
"axis": {"orient": "top", "values": [0, 1, 2], "labels": false, "tickSize": -9, "domain": false, "grid": false, "title": null}},
"y": {"field": "v", "type": "quantitative", "axis": null}
}
}
],
"resolve": {"axis": {"x": "independent", "y": "independent"}},
"config": {
"font": "Liberation Sans",
"view": {"stroke": "#333", "strokeWidth": 1},
"axis": {"labelFont": "Liberation Sans", "labelFontSize": 11, "labelColor": "#111", "tickColor": "#333", "tickWidth": 1, "titleFont": "Liberation Sans", "titleFontSize": 11, "titleFontWeight": "normal", "titleColor": "#111"},
"legend": {"labelFont": "Liberation Sans", "labelColor": "#111"}
}
}
